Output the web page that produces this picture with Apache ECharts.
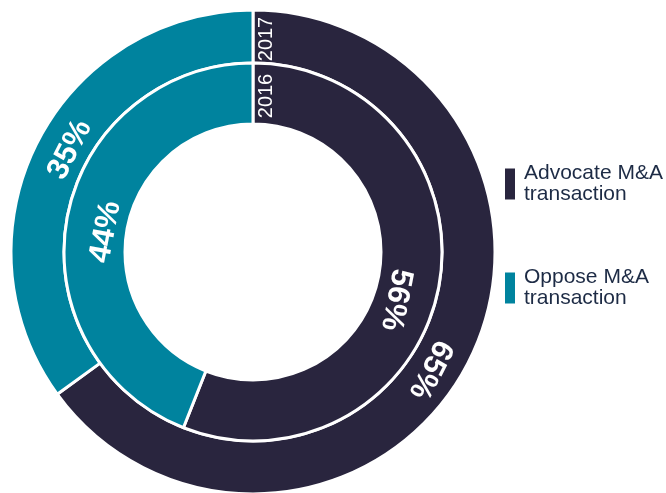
<!DOCTYPE html>
<html>
<head>
<meta charset="utf-8">
<script src="https://cdn.jsdelivr.net/npm/echarts@6/dist/echarts.min.js"></script>
<style>
  html, body { margin: 0; padding: 0; background: #fff; }
  #chart { width: 666px; height: 493px; }
</style>
</head>
<body>
<div id="chart"></div>
<script>
const categories = ['Advocate M&A transaction', 'Oppose M&A transaction']
const years = ['2017', '2016']
const values2017 = [65, 35]
const values2016 = [56, 44]

const colors = ['#29253e', '#00839e']
const center = [253, 252]

// label nudges: [along the ring (clockwise), towards the centre], px
const labelShift2017 = [[24, 7], [8, 9]]
const labelShift2016 = [[20, 12], [-8, 13]]

// mid angle of each slice, degrees clockwise from 12 o'clock
const midAngles = (values) => {
  const total = values.reduce((a, b) => a + b, 0)
  let cum = 0
  return values.map(v => {
    const mid = (cum + v / 2) / total * 360
    cum += v
    return mid
  })
}

// rotate each label so its top faces away from the centre
const buildData = (values) => {
  const mids = midAngles(values)
  return values.map((v, i) => ({
    name: categories[i],
    value: v,
    label: { rotate: -mids[i] }
  }))
}

// dx / dy end up in the rotated label frame: x runs clockwise, y points inward
const shiftLayout = (shifts) => (params) => {
  const [t, s] = shifts[params.dataIndex]
  return { dx: t, dy: s }
}

const labelStyle = {
  show: true,
  position: 'inside',
  formatter: '{c}%',
  color: '#fff',
  fontSize: 31,
  fontWeight: 'bold',
  fontFamily: 'Liberation Sans'
}

const ringBase = {
  type: 'pie',
  center,
  startAngle: 90,
  clockwise: true,
  silent: true,
  labelLine: { show: false },
  itemStyle: { borderColor: '#fff', borderWidth: 3 },
  emphasis: { disabled: true }
}

const yearText = (text, y) => ({
  type: 'text',
  x: 266,
  y,
  z: 100,
  rotation: Math.PI / 2,
  silent: true,
  style: {
    text,
    fill: '#fff',
    font: '20px "Liberation Sans"',
    align: 'center',
    verticalAlign: 'middle'
  }
})

const chart = echarts.init(document.getElementById('chart'))

chart.setOption({
  animation: false,
  color: colors,
  legend: {
    orient: 'vertical',
    left: 498,
    top: 158,
    itemWidth: 12,
    itemHeight: 33,
    itemGap: 62,
    icon: 'rect',
    selectedMode: false,
    data: categories,
    formatter: (name) => name.replace(' transaction', '\ntransaction'),
    textStyle: {
      color: '#1d2b45',
      fontSize: 21,
      lineHeight: 21,
      fontFamily: 'Liberation Sans',
      padding: [0, 0, 0, 3]
    }
  },
  series: [
    {
      ...ringBase,
      name: years[0],
      radius: [189, 242],
      label: labelStyle,
      labelLayout: shiftLayout(labelShift2017),
      data: buildData(values2017)
    },
    {
      ...ringBase,
      name: years[1],
      radius: [128, 189],
      label: labelStyle,
      labelLayout: shiftLayout(labelShift2016),
      data: buildData(values2016)
    }
  ],
  graphic: [
    yearText(years[0], 39),
    yearText(years[1], 96)
  ]
})
</script>
</body>
</html>
